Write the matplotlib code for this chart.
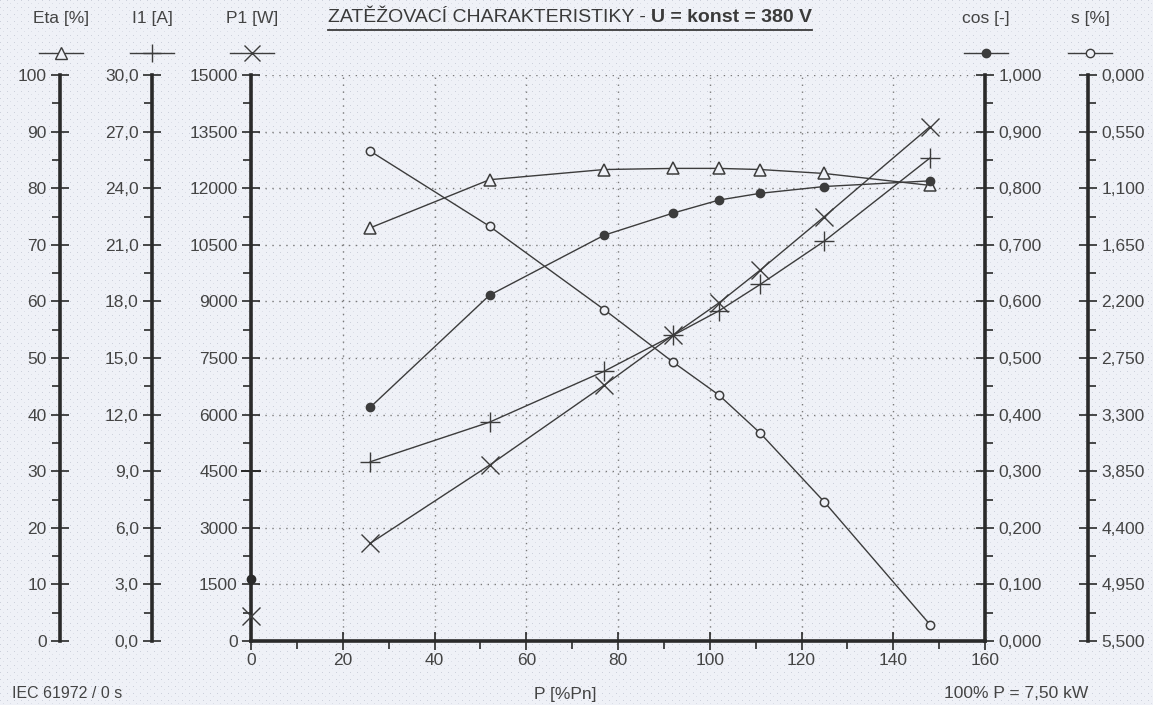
import matplotlib
matplotlib.use('Agg')
import matplotlib.pyplot as plt
from matplotlib.lines import Line2D
from matplotlib.ticker import MultipleLocator, FuncFormatter
import numpy as np

# load points [% Pn]
load = [26, 52, 77, 92, 102, 111, 125, 148]
eta = [73.0, 81.5, 83.3, 83.5, 83.5, 83.3, 82.6, 80.5]
i1 = [9.5, 11.6, 14.3, 16.2, 17.5, 18.9, 21.2, 25.6]
p1 = [2590, 4660, 6780, 8110, 8960, 9830, 11250, 13630]
cosphi = [0.413, 0.611, 0.717, 0.756, 0.779, 0.791, 0.803, 0.813]
slip = [0.74, 1.47, 2.28, 2.79, 3.11, 3.48, 4.15, 5.34]

# no-load point (P = 0)
noload_i1 = 9.0
noload_p1 = 650
noload_cos = 0.109

W, H = 1153, 705
BG = '#eff1f7'
LC = '#3c3c3c'
AX = '#2a2a2a'
TXT = '#444444'
plt.rcParams['font.family'] = ['Liberation Sans', 'DejaVu Sans']

fig = plt.figure(figsize=(W / 100, H / 100), dpi=100, facecolor=BG)

# dotted paper texture behind everything
tex = np.ones((H, W, 3)) * np.array([0xef, 0xf1, 0xf7]) / 255
tex[::7, ::7] = np.array([0xcc, 0xd0, 0xdb]) / 255
tex[3::7, 3::7] = np.array([0xdb, 0xde, 0xe7]) / 255
fig.figimage(tex, xo=0, yo=0, zorder=-5)

x0, x1, yb, yt = 251, 985, 641, 75
ax = fig.add_axes([x0 / W, 1 - yb / H, (x1 - x0) / W, (yb - yt) / H])
ax.set_facecolor('none')

def comma(fmt):
    return FuncFormatter(lambda v, p: (fmt % v).replace('.', ','))

def style(a, side):
    a.tick_params(axis='y', which='major', direction='inout', length=13,
                  width=1.2, color=AX, labelsize=12.5, labelcolor=TXT, pad=3)
    a.tick_params(axis='y', which='minor', direction='out', length=6,
                  width=1.2, color=AX)
    a.spines[side].set_linewidth(2.6)
    a.spines[side].set_color(AX)

# host: P1 on the left main spine
for s in ['top', 'right']:
    ax.spines[s].set_visible(False)
ax.set_xlim(0, 160)
ax.set_ylim(0, 15000)
ax.xaxis.set_major_locator(MultipleLocator(20))
ax.xaxis.set_minor_locator(MultipleLocator(10))
ax.yaxis.set_major_locator(MultipleLocator(1500))
ax.yaxis.set_minor_locator(MultipleLocator(750))
style(ax, 'left')
ax.spines['bottom'].set_linewidth(2.6)
ax.spines['bottom'].set_color(AX)
ax.tick_params(axis='x', which='major', direction='inout', length=13, width=1.2,
               color=AX, labelsize=12.5, labelcolor=TXT, pad=2)
ax.tick_params(axis='x', which='minor', direction='out', length=6, width=1.2, color=AX)
ax.grid(True, which='major', color='#7a7a7a', linestyle=(0, (1, 4)), linewidth=1.0)
ax.set_axisbelow(True)

def extra(pos, side):
    a = ax.twinx()
    a.set_facecolor('none')
    for s in ['top', 'bottom', 'left', 'right']:
        a.spines[s].set_visible(False)
    a.spines[side].set_visible(True)
    a.spines[side].set_position(('axes', pos))
    a.yaxis.set_ticks_position(side)
    a.yaxis.set_label_position(side)
    style(a, side)
    return a

ax_eta = extra(-(x0 - 60) / (x1 - x0), 'left')
ax_eta.set_ylim(0, 100)
ax_eta.yaxis.set_major_locator(MultipleLocator(10))
ax_eta.yaxis.set_minor_locator(MultipleLocator(5))

ax_i = extra(-(x0 - 152) / (x1 - x0), 'left')
ax_i.set_ylim(0, 30)
ax_i.yaxis.set_major_locator(MultipleLocator(3))
ax_i.yaxis.set_minor_locator(MultipleLocator(1.5))
ax_i.yaxis.set_major_formatter(comma('%.1f'))

ax_cos = extra(1.0, 'right')
ax_cos.set_ylim(0, 1)
ax_cos.yaxis.set_major_locator(MultipleLocator(0.1))
ax_cos.yaxis.set_minor_locator(MultipleLocator(0.05))
ax_cos.yaxis.set_major_formatter(comma('%.3f'))

ax_s = extra(1 + (1088 - x1) / (x1 - x0), 'right')
ax_s.set_ylim(5.5, 0)
ax_s.yaxis.set_major_locator(MultipleLocator(0.55))
ax_s.yaxis.set_minor_locator(MultipleLocator(0.275))
ax_s.yaxis.set_major_formatter(comma('%.3f'))

common = dict(color=LC, linewidth=1.0, clip_on=False)
ax_eta.plot(load, eta, marker='^', markersize=9, markerfacecolor=BG,
            markeredgecolor=LC, markeredgewidth=1.1, **common)
ax_i.plot(load, i1, marker='+', markersize=15, markeredgewidth=1.0, **common)
ax.plot(load, p1, marker='x', markersize=13, markeredgewidth=1.0, **common)
ax_cos.plot(load, cosphi, marker='o', markersize=6, markerfacecolor=LC, **common)
ax_s.plot(load, slip, marker='o', markersize=6, markerfacecolor=BG,
          markeredgewidth=1.1, **common)

ax_i.plot([0], [noload_i1], marker='+', markersize=15, markeredgewidth=1.4,
          color=AX, clip_on=False, zorder=5)
ax.plot([0], [noload_p1], marker='x', markersize=13, markeredgewidth=1.0,
        color=LC, clip_on=False, zorder=5)
ax_cos.plot([0], [noload_cos], marker='o', markersize=6, color=AX,
            clip_on=False, zorder=5)

# header labels with legend glyphs
def header(xc, label, **mk):
    fig.text(xc / W, 1 - 19 / H, label, ha='center', va='center',
             fontsize=12.5, color=TXT)
    fig.add_artist(Line2D([(xc - 22) / W, xc / W, (xc + 22) / W],
                          [1 - 53 / H] * 3, color=LC, linewidth=1.0,
                          markevery=[1], **mk))

header(61, 'Eta [%]', marker='^', markersize=8, markerfacecolor=BG, markeredgecolor=LC)
header(152, 'I1 [A]', marker='+', markersize=13)
header(252, 'P1 [W]', marker='x', markersize=11)
header(986, 'cos [-]', marker='o', markersize=6, markerfacecolor=LC)
header(1090, 's [%]', marker='o', markersize=6, markerfacecolor=BG)

t1 = fig.text(328 / W, 1 - 18 / H, 'ZATĚŽOVACÍ CHARAKTERISTIKY - ', ha='left',
              va='center', fontsize=14, color='#3a3a3a')
fig.canvas.draw()
bb = t1.get_window_extent()
t2 = fig.text(bb.x1 / W, 1 - 18 / H, 'U = konst = 380 V', ha='left', va='center',
              fontsize=14, fontweight='bold', color='#3a3a3a')
bb2 = t2.get_window_extent()
fig.add_artist(Line2D([328 / W, bb2.x1 / W], [1 - 30 / H] * 2, color='#3a3a3a',
                      linewidth=1.3))

fig.text(12 / W, 1 - 694 / H, 'IEC 61972 / 0 s', ha='left', va='center',
         fontsize=11.5, color=TXT)
fig.text(565 / W, 1 - 694 / H, 'P [%Pn]', ha='center', va='center',
         fontsize=12.5, color=TXT)
fig.text(1088 / W, 1 - 694 / H, '100% P = 7,50 kW', ha='right', va='center',
         fontsize=12.5, color=TXT)

fig.savefig('out.png', dpi=100, facecolor=BG)
